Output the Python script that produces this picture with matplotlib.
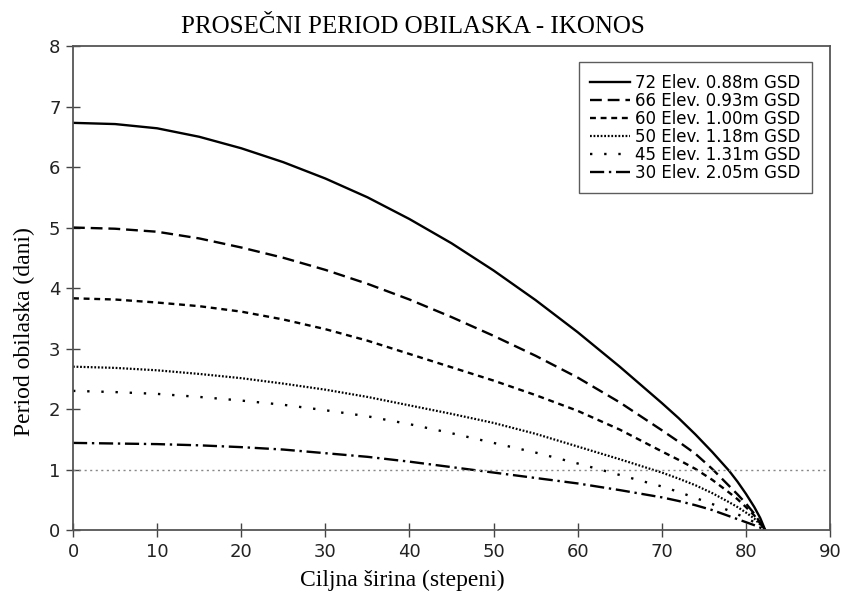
import matplotlib
matplotlib.use("Agg")
import matplotlib.pyplot as plt

# Data
lat = [0, 5, 10, 15, 20, 25, 30, 35, 40, 45, 50, 55, 60, 65, 70,
       72, 74, 76, 78, 79, 80, 81, 81.7, 82.3]
elev72 = [6.73, 6.71, 6.64, 6.50, 6.31, 6.08, 5.81, 5.50, 5.14, 4.74, 4.29, 3.80, 3.27, 2.70, 2.10,
          1.85, 1.58, 1.29, 0.98, 0.80, 0.60, 0.38, 0.20, 0.0]
elev66 = [5.00, 4.98, 4.93, 4.82, 4.67, 4.50, 4.30, 4.07, 3.81, 3.52, 3.21, 2.88, 2.52, 2.11, 1.65,
          1.46, 1.26, 1.01, 0.73, 0.59, 0.44, 0.27, 0.12, 0.0]
elev60 = [3.83, 3.81, 3.76, 3.70, 3.61, 3.48, 3.32, 3.13, 2.91, 2.69, 2.47, 2.23, 1.97, 1.66, 1.30,
          1.16, 1.01, 0.83, 0.62, 0.51, 0.38, 0.24, 0.11, 0.0]
elev50 = [2.70, 2.68, 2.64, 2.58, 2.51, 2.42, 2.32, 2.20, 2.06, 1.92, 1.77, 1.59, 1.38, 1.17, 0.95,
          0.85, 0.74, 0.61, 0.46, 0.38, 0.29, 0.19, 0.09, 0.0]
elev45 = [2.30, 2.28, 2.25, 2.20, 2.14, 2.07, 1.98, 1.88, 1.75, 1.60, 1.44, 1.28, 1.10, 0.91, 0.72,
          0.63, 0.53, 0.43, 0.32, 0.26, 0.20, 0.13, 0.06, 0.0]
elev30 = [1.44, 1.43, 1.42, 1.40, 1.37, 1.33, 1.27, 1.21, 1.13, 1.04, 0.95, 0.86, 0.77, 0.66, 0.54,
          0.48, 0.41, 0.33, 0.23, 0.18, 0.13, 0.08, 0.04, 0.0]
labels = ["72 Elev. 0.88m GSD", "66 Elev. 0.93m GSD", "60 Elev. 1.00m GSD",
          "50 Elev. 1.18m GSD", "45 Elev. 1.31m GSD", "30 Elev. 2.05m GSD"]
xticks = list(range(0, 91, 10))
yticks = list(range(0, 9))
threshold = 1.0

fig = plt.figure(figsize=(8.44, 5.96), dpi=100)
ax = fig.add_axes([0.0865, 0.1107, 0.8969, 0.8121])

series = [elev72, elev66, elev60, elev50, elev45, elev30]
styles = [
    dict(linestyle="-", linewidth=1.7),
    dict(linestyle=(0, (5, 2.5)), linewidth=1.7),
    dict(linestyle=(0, (2.5, 2)), linewidth=1.7),
    dict(linestyle=(0, (0.8, 0.8)), linewidth=1.6),
    dict(linestyle=(0, (1, 5)), linewidth=1.7),
    dict(linestyle=(0, (6, 2, 1, 2)), linewidth=1.7),
]
for y, lab, st in zip(series, labels, styles):
    ax.plot(lat, y, color="black", label=lab, solid_joinstyle="round", **st)

ax.axhline(threshold, color="#888888", linestyle=(0, (1.5, 2.5)), linewidth=1.0)

ax.set_xlim(0, 90)
ax.set_ylim(0, 8)
ax.set_xticks(xticks)
ax.set_yticks(yticks)
sans = ["DejaVu Sans"]
for lab in ax.get_xticklabels() + ax.get_yticklabels():
    lab.set_family(sans)
    lab.set_fontsize(13)
    lab.set_color("#222222")
ax.tick_params(direction="inout", length=10, width=1.0, color="#444444", pad=4)
for s in ax.spines.values():
    s.set_color("#555555")
    s.set_linewidth(1.3)

leg = ax.legend(loc="upper right", bbox_to_anchor=(0.976, 0.967),
                prop={"family": sans, "size": 12}, frameon=True, fancybox=False,
                handlelength=2.4, handletextpad=0.25, labelspacing=0.0,
                borderpad=0.7, borderaxespad=0.0)
leg.get_frame().set_edgecolor("#333333")
leg.get_frame().set_linewidth(1.0)

serif = ["Liberation Serif", "DejaVu Serif"]
fig.text(413 / 844, 1 - 27 / 596, "PROSEČNI PERIOD OBILASKA - IKONOS",
         family=serif, fontsize=18, ha="center", va="center")
fig.text(402 / 844, 1 - 580 / 596, "Ciljna širina (stepeni)",
         family=serif, fontsize=17, ha="center", va="center")
fig.text(24 / 844, 1 - 332 / 596, "Period obilaska (dani)",
         family=serif, fontsize=17, ha="center", va="center", rotation=90)

fig.savefig("out.png", dpi=100)
